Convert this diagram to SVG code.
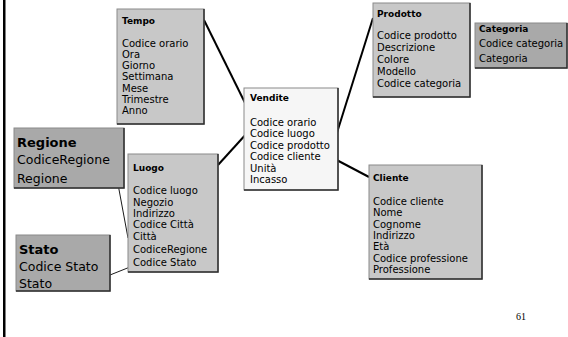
<svg xmlns="http://www.w3.org/2000/svg" width="568" height="337" viewBox="0 0 568 337">
  <style>
    .box { stroke: #8a8a8a; stroke-width: 1; }
    .light { fill: #c8c8c8; }
    .dark { fill: #a9a9a9; }
    .white { fill: #f6f6f6; }
    .edge { fill: none; stroke: #2e2e2e; stroke-width: 1.5; }
    .t { font-family: "DejaVu Sans", "Liberation Sans", sans-serif; font-size: 10px; fill: #000; }
    .h { font-family: "DejaVu Sans", "Liberation Sans", sans-serif; font-size: 9px; font-weight: bold; fill: #000; }
    .big { font-family: "DejaVu Sans", "Liberation Sans", sans-serif; font-size: 12.5px; fill: #000; }
    .bigh { font-family: "DejaVu Sans", "Liberation Sans", sans-serif; font-size: 13px; font-weight: bold; fill: #000; }
    .thick { stroke: #000; stroke-width: 2; fill: none; }
    .thin { stroke: #000; stroke-width: 0.9; fill: none; }
  </style>

  <rect width="568" height="337" fill="#ffffff"/>
  <!-- page border on the left -->
  <rect x="3" y="0" width="2.5" height="337" fill="#000"/>

  <g id="connectors">
    <line class="thick" x1="204" y1="20" x2="251" y2="115"/>
    <line class="thick" x1="373" y1="18" x2="335" y2="139"/>
    <line class="thick" x1="218" y1="165" x2="248" y2="132"/>
    <line class="thick" x1="331" y1="157" x2="369" y2="177"/>
    <line class="thin" x1="115" y1="168" x2="128" y2="238"/>
    <line class="thin" x1="95" y1="281" x2="130" y2="267"/>
  </g>

  <g id="tempo">
    <rect class="box light" x="117" y="9" width="87" height="115"/>
    <path class="edge" d="M204,9 V124 H117"/>
    <text class="h" x="122" y="24">Tempo</text>
    <text class="t" x="122" y="46.5">Codice orario</text>
    <text class="t" x="122" y="57.8">Ora</text>
    <text class="t" x="122" y="69.1">Giorno</text>
    <text class="t" x="122" y="80.4">Settimana</text>
    <text class="t" x="122" y="91.7">Mese</text>
    <text class="t" x="122" y="103">Trimestre</text>
    <text class="t" x="122" y="114.3">Anno</text>
  </g>

  <g id="prodotto">
    <rect class="box light" x="373" y="3" width="97" height="94"/>
    <path class="edge" d="M470,3 V97 H373"/>
    <text class="h" x="377" y="16.5">Prodotto</text>
    <text class="t" x="377" y="39">Codice prodotto</text>
    <text class="t" x="377" y="51">Descrizione</text>
    <text class="t" x="377" y="63">Colore</text>
    <text class="t" x="377" y="75">Modello</text>
    <text class="t" x="377" y="87">Codice categoria</text>
  </g>

  <g id="categoria">
    <rect class="box dark" x="475" y="23" width="92" height="45"/>
    <path class="edge" d="M567,23 V68 H475"/>
    <text class="h" x="479" y="31.5">Categoria</text>
    <text class="t" x="479" y="47">Codice categoria</text>
    <text class="t" x="479" y="62">Categoria</text>
  </g>

  <g id="vendite">
    <rect class="box white" x="244" y="88" width="94" height="102"/>
    <path class="edge" d="M338,88 V190 H244"/>
    <text class="h" x="250" y="100.5">Vendite</text>
    <text class="t" x="250" y="126">Codice orario</text>
    <text class="t" x="250" y="137.4">Codice luogo</text>
    <text class="t" x="250" y="148.8">Codice prodotto</text>
    <text class="t" x="250" y="160.2">Codice cliente</text>
    <text class="t" x="250" y="171.6">Unità</text>
    <text class="t" x="250" y="183">Incasso</text>
  </g>

  <g id="regione">
    <rect class="box dark" x="14" y="128" width="110" height="60"/>
    <path class="edge" d="M124,128 V188 H14"/>
    <text class="bigh" x="17" y="146.5">Regione</text>
    <text class="big" x="17" y="163.5">CodiceRegione</text>
    <text class="big" x="17" y="182.5">Regione</text>
  </g>

  <g id="luogo">
    <rect class="box light" x="128" y="154" width="90" height="118"/>
    <path class="edge" d="M218,154 V272 H128"/>
    <text class="h" x="133" y="170.5">Luogo</text>
    <text class="t" x="133" y="194">Codice luogo</text>
    <text class="t" x="133" y="205.5">Negozio</text>
    <text class="t" x="133" y="216.5">Indirizzo</text>
    <text class="t" x="133" y="228">Codice Città</text>
    <text class="t" x="133" y="240">Città</text>
    <text class="t" x="133" y="252.5">CodiceRegione</text>
    <text class="t" x="133" y="265.5">Codice Stato</text>
  </g>

  <g id="stato">
    <rect class="box dark" x="16" y="235" width="94" height="56"/>
    <path class="edge" d="M110,235 V291 H16"/>
    <text class="bigh" x="19" y="253.5">Stato</text>
    <text class="big" x="19" y="270.5">Codice Stato</text>
    <text class="big" x="19" y="287.5">Stato</text>
  </g>

  <g id="cliente">
    <rect class="box light" x="369" y="165" width="113" height="114"/>
    <path class="edge" d="M482,165 V279 H369"/>
    <text class="h" x="373" y="180.5">Cliente</text>
    <text class="t" x="373" y="205">Codice cliente</text>
    <text class="t" x="373" y="216.3">Nome</text>
    <text class="t" x="373" y="227.7">Cognome</text>
    <text class="t" x="373" y="239">Indirizzo</text>
    <text class="t" x="373" y="250.4">Età</text>
    <text class="t" x="373" y="261.7">Codice professione</text>
    <text class="t" x="373" y="273">Professione</text>
  </g>

  <text x="516" y="320" font-family="Liberation Serif, serif" font-size="10">61</text>
</svg>
